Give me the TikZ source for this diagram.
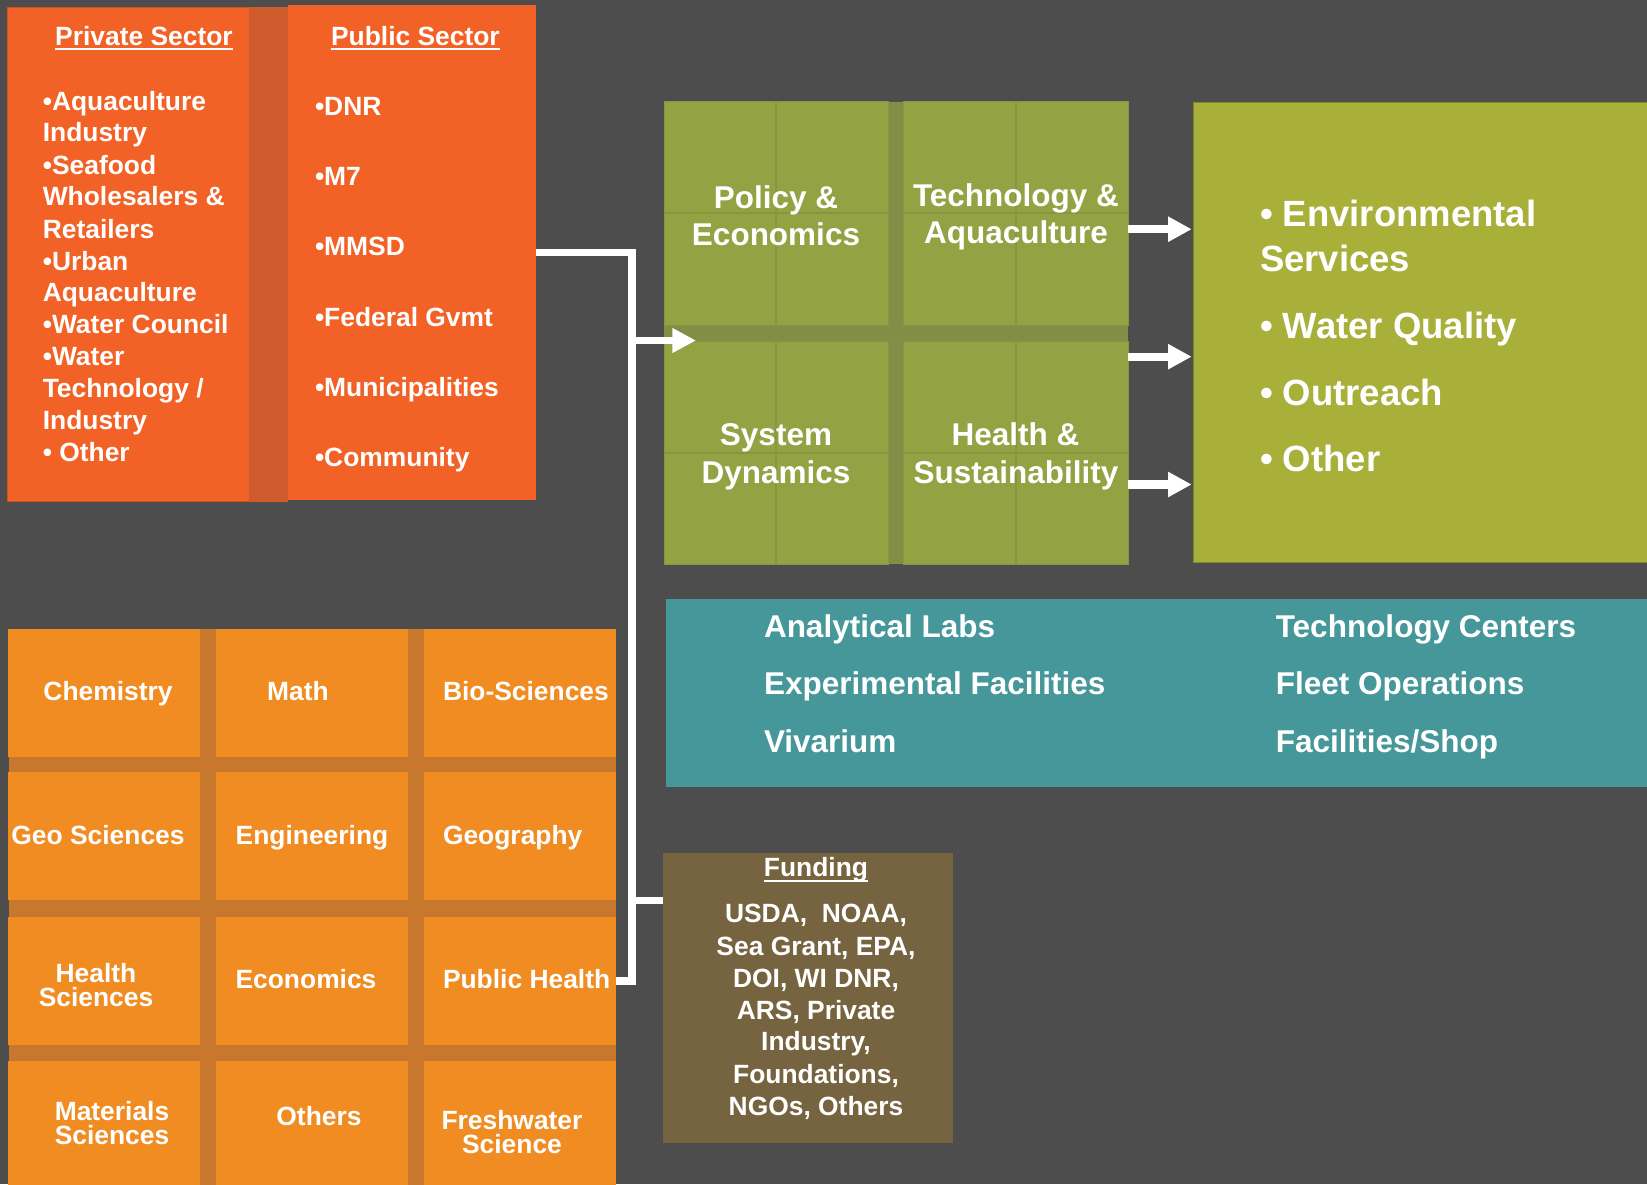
\documentclass[tikz,border=0pt]{standalone}
\usepackage{fontspec}
\setmainfont{Liberation Sans}
\usetikzlibrary{arrows.meta}
\definecolor{bgc}{HTML}{4D4D4D}
\definecolor{redor}{HTML}{F26125}
\definecolor{redstrip}{HTML}{CF5A2C}
\definecolor{grn}{HTML}{93A243}
\definecolor{grndark}{HTML}{848D45}
\definecolor{grnline}{HTML}{879640}
\definecolor{olive}{HTML}{A8B03A}
\definecolor{oliveedge}{HTML}{7F8A2E}
\definecolor{teal}{HTML}{45979A}
\definecolor{brownbox}{HTML}{76633F}
\definecolor{org}{HTML}{F08C21}
\definecolor{orgdark}{HTML}{C7782C}
\begin{document}
\begin{tikzpicture}[x=1pt,y=-1pt,
  rect/.style={rectangle,inner sep=0pt,outer sep=0pt,anchor=north west,draw=none},
  txt/.style={text=white,inner sep=0pt,outer sep=0pt},
  fs/.style={txt,font=\bfseries\fontsize{26.4}{32}\selectfont},
  fm/.style={txt,font=\bfseries\fontsize{31.5}{37.5}\selectfont},
  fl/.style={txt,font=\bfseries\fontsize{36.5}{45}\selectfont},
  conn/.style={draw=white,line width=7.3pt},
  arr/.style={draw=white,line width=8.3pt,-{Triangle[length=23.5pt,width=23.7pt]}},
  uline/.style={draw=white,line width=2.2pt},
  cellline/.style={draw=grnline,line width=2pt}]
\useasboundingbox (0,0) rectangle (1647,1184);
\fill[bgc] (0,0) rectangle (1647,1184);

% ---------- private / public sector ----------
\node[rect,fill=redor,draw=redor!85!black,line width=1pt,minimum width=241.1pt,minimum height=494.4pt] (priv) at (7.9,7.3) {};
\node[rect,fill=redstrip,minimum width=38.8pt,minimum height=494.4pt] (privstrip) at (249,7.3) {};
\node[rect,fill=redor,minimum width=247.9pt,minimum height=495pt] (pub) at (287.8,5) {};

\node[fs,anchor=base] (privt) at (144,45) {Private Sector};
\draw[uline] ([yshift=-3.6pt]privt.base west) -- ([yshift=-3.6pt]privt.base east);
\node[fs,anchor=base] (pubt) at (415.4,45) {Public Sector};
\draw[uline] ([yshift=-3.6pt]pubt.base west) -- ([yshift=-3.6pt]pubt.base east);

\foreach \t/\y [count=\i] in {{•Aquaculture}/110,{Industry}/141.7,{•Seafood}/174,{Wholesalers \&}/205.7,{Retailers}/238,{•Urban}/270,{Aquaculture}/301.7,{•Water Council}/333.3,{•Water}/365.5,{Technology /}/397.3,{Industry}/429.3,{• Other}/461.5}
  \node[fs,anchor=base west] (privi\i) at (42.8,\y) {\t};

\foreach \t/\y [count=\i] in {{•DNR}/115,{•M7}/185,{•MMSD}/255.7,{•Federal Gvmt}/326.7,{•Municipalities}/396.7,{•Community}/466.7}
  \node[fs,anchor=base west] (pubi\i) at (315,\y) {\t};

% ---------- green grid ----------
\node[rect,fill=grndark,minimum width=463.7pt,minimum height=462.3pt] (gridbg) at (664.3,101.7) {};
\node[rect,fill=grn,draw=grnline,line width=1pt,minimum width=223.7pt,minimum height=223.3pt] (q1) at (664.3,101.7) {};
\node[rect,fill=grn,draw=grnline,line width=1pt,minimum width=224.5pt,minimum height=223.3pt] (q2) at (903.5,101.7) {};
\node[rect,fill=grn,draw=grnline,line width=1pt,minimum width=223.7pt,minimum height=223pt] (q3) at (664.3,341) {};
\node[rect,fill=grn,draw=grnline,line width=1pt,minimum width=224.5pt,minimum height=223pt] (q4) at (903.5,341) {};
\foreach \q in {q1,q2,q3,q4}{
  \draw[cellline] (\q.north) -- (\q.south);
  \draw[cellline] (\q.west) -- (\q.east);
}
\node[fm,anchor=base] (g1a) at (776,208.3) {Policy \&};
\node[fm,anchor=base] (g1b) at (776,245.7) {Economics};
\node[fm,anchor=base] (g2a) at (1016,206) {Technology \&};
\node[fm,anchor=base] (g2b) at (1016,243.3) {Aquaculture};
\node[fm,anchor=base] (g3a) at (776,445.7) {System};
\node[fm,anchor=base] (g3b) at (776,483.3) {Dynamics};
\node[fm,anchor=base] (g4a) at (1015.5,445.7) {Health \&};
\node[fm,anchor=base] (g4b) at (1016,483.3) {Sustainability};

% ---------- right outcomes box ----------
\node[rect,fill=olive,draw=oliveedge,line width=1.2pt,minimum width=470pt,minimum height=460pt] (outc) at (1193.5,102.7) {};
\node[fl,anchor=base west] (o1) at (1260,226.7) {• Environmental};
\node[fl,anchor=base west] (o1b) at (1260,271.7) {Services};
\node[fl,anchor=base west] (o2) at (1260,338.3) {• Water Quality};
\node[fl,anchor=base west] (o3) at (1260,405) {• Outreach};
\node[fl,anchor=base west] (o4) at (1260,471.7) {• Other};

% ---------- teal facilities ----------
\node[rect,fill=teal,minimum width=995pt,minimum height=187.6pt] (fac) at (665.7,599) {};
\node[fm,anchor=base west] (fa1) at (764,637.4) {Analytical Labs};
\node[fm,anchor=base west] (fa2) at (764,694) {Experimental Facilities};
\node[fm,anchor=base west] (fa3) at (764,752) {Vivarium};
\node[fm,anchor=base west] (fb1) at (1275.8,637.4) {Technology Centers};
\node[fm,anchor=base west] (fb2) at (1275.8,694) {Fleet Operations};
\node[fm,anchor=base west] (fb3) at (1275.8,752) {Facilities/Shop};

% ---------- funding ----------
\node[rect,fill=brownbox,minimum width=290.4pt,minimum height=290.1pt] (fund) at (663,852.5) {};
\node[fs,anchor=base] (fundt) at (816,876.6) {Funding};
\draw[uline] ([yshift=-4.5pt]fundt.base west) -- ([yshift=-4.5pt]fundt.base east);
\foreach \t/\y [count=\i] in {{USDA,~ NOAA,}/922.5,{Sea Grant, EPA,}/955,{DOI, WI DNR,}/987.6,{ARS, Private}/1019,{Industry,}/1050.7,{Foundations,}/1083,{NGOs, Others}/1115.8}
  \node[fs,anchor=base] (fundi\i) at (816,\y) {\t};

% ---------- disciplines grid ----------
\node[rect,fill=orgdark,minimum width=607.3pt,minimum height=570pt] (discbg) at (8.7,629) {};
\foreach \x/\c in {7.8/a,216/b,424/c}{
  \foreach \y/\r in {629/1,772.4/2,917/3,1061/4}{
    \node[rect,fill=org,minimum width=192.2pt,minimum height=128pt] (d\c\r) at (\x,\y) {};
  }
}
\node[fs,anchor=base] (t1) at (108,700.5) {Chemistry};
\node[fs,anchor=base] (t2) at (298,700.5) {Math};
\node[fs,anchor=base west] (t3) at (443,700.5) {Bio-Sciences};
\node[fs,anchor=base] (t4) at (98,844) {Geo Sciences};
\node[fs,anchor=base] (t5) at (312,844) {Engineering};
\node[fs,anchor=base west] (t6) at (443,844) {Geography};
\node[fs,anchor=base] (t7a) at (96,982.5) {Health};
\node[fs,anchor=base] (t7b) at (96,1006.7) {Sciences};
\node[fs,anchor=base] (t8) at (306,988) {Economics};
\node[fs,anchor=base west] (t9) at (443,988) {Public Health};
\node[fs,anchor=base] (t10a) at (112,1120) {Materials};
\node[fs,anchor=base] (t10b) at (112,1144.5) {Sciences};
\node[fs,anchor=base] (t11) at (319,1125) {Others};
\node[fs,anchor=base] (t12a) at (512,1129.6) {Freshwater};
\node[fs,anchor=base] (t12b) at (512,1153) {Science};

% ---------- connectors ----------
\coordinate (trunk) at (632,0);
\coordinate (gridin) at (696,340.5);
\coordinate (fundin) at (663,900.7);
\draw[conn] (pub.east) -| (trunk |- dc3.east) -- (dc3.east);
\draw[conn,-{Triangle[length=23.7pt,width=23.4pt]}] (trunk |- gridin) -- (gridin);
\draw[conn] (trunk |- fundin) -- (fundin);

\draw[arr] (q2.east |- 0,229.2) -- ([xshift=-1.8pt]outc.west |- 0,229.2);
\draw[arr] (q2.east |- 0,356.7) -- ([xshift=-1.8pt]outc.west |- 0,356.7);
\draw[arr] (q4.east |- 0,484.5) -- ([xshift=-1.8pt]outc.west |- 0,484.5);
\end{tikzpicture}
\end{document}
